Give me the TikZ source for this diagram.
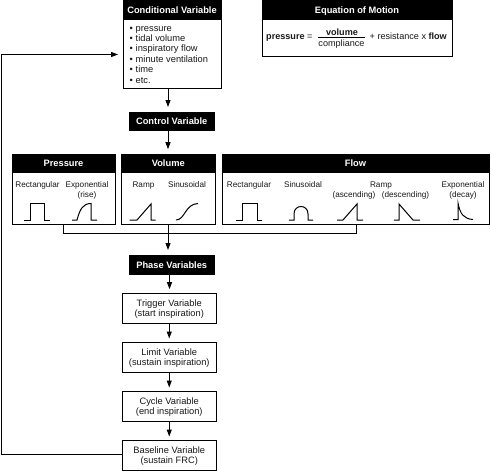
\documentclass[tikz,border=0pt]{standalone}
\usepackage{fontspec}
\setmainfont{Liberation Sans}
\usetikzlibrary{arrows.meta}
\tikzset{
  line/.style={line width=1pt,black},
  wave/.style={line width=1pt,black,line join=miter},
  arrow/.style={line,-{Triangle[length=7pt,width=5pt]}},
  box/.style={draw=black,line width=1pt,fill=white,inner sep=0pt,align=center,text depth=0pt,font=\fontsize{9.3}{10.3}\selectfont,text=black!90},
  head/.style={fill=black,text=white,inner sep=0pt,align=center,text height=6.7pt,text depth=0pt,font=\fontsize{9.3}{11}\selectfont\bfseries},
  lab/.style={inner sep=0pt,anchor=base,font=\fontsize{8.2}{9.6}\selectfont,text=black!90,align=center},
  labtwo/.style={inner sep=0pt,anchor=north,font=\fontsize{8.2}{9.6}\selectfont,text=black!90,align=center},
  item/.style={inner sep=0pt,anchor=base west,font=\fontsize{9.3}{10}\selectfont,text=black!90},
  eq/.style={inner sep=0pt,font=\fontsize{9.1}{10}\selectfont,text=black!90},
}
\newcommand{\boxat}[7]{% name x1 y1 x2 y2 style text
  \node[#6,minimum width=#4pt-#2pt,minimum height=#5pt-#3pt] (#1) at ({(#2+#4)/2},{(#3+#5)/2}) {#7};}
\begin{document}
\begin{tikzpicture}[x=1pt,y=-1pt]
\useasboundingbox (0,0) rectangle (491,471);
\fill[white] (0,0) rectangle (491,471);
% conditional
\boxat{condb}{123}{1}{221}{88}{box}{}
\boxat{condh}{123}{1}{221}{20}{head}{Conditional Variable}
\foreach \n/\y/\t in {a/31/pressure,b/41.3/tidal volume,c/51.8/inspiratory flow,d/62.3/minute ventilation,e/72.6/time,f/83/etc.}{
  \node[item] (bul\n) at (129.5,\y) {•};
  \node[item] (it\n) at (135.5,\y) {\t};
}
% equation
\boxat{eqb}{262}{1}{452}{56}{box}{}
\boxat{eqh}{262}{1}{452}{20}{head}{Equation of Motion}
\node[eq,anchor=base west] (eqp) at (266,39.5) {\textbf{pressure} =};
\node[eq,anchor=base] (eqv) at (342,35) {\textbf{volume}};
\node[eq,anchor=base] (eqc) at (341.5,46) {compliance};
\coordinate (fl) at (318,37.2); \coordinate (fr) at (365,37.2);
\draw[line] (fl) -- (fr);
\node[eq,anchor=base west] (eqr) at (369.5,39.5) {+ resistance x \textbf{flow}};
% control
\boxat{ctrl}{129}{112}{214.5}{131}{head}{Control Variable}
% groups
\boxat{pb}{12}{154}{115}{224.5}{box}{}
\boxat{ph}{12}{154}{115}{173}{head}{Pressure}
\boxat{vb}{121.5}{154}{215}{224.5}{box}{}
\boxat{vh}{121.5}{154}{215}{173}{head}{Volume}
\boxat{fb}{222}{154}{489}{224.5}{box}{}
\boxat{fh}{222}{154}{489}{173}{head}{Flow}
\node[lab] (l1) at (37.5,187.5) {Rectangular};
\node[labtwo] (l2) at (87,181.3) {Exponential\\(rise)};
\node[lab] (l3) at (143.5,187.5) {Ramp};
\node[lab] (l4) at (187,187.5) {Sinusoidal};
\node[lab] (l5) at (249,187.5) {Rectangular};
\node[lab] (l6) at (303,187.5) {Sinusoidal};
\node[lab] (l7) at (381,187.5) {Ramp};
\node[lab] (l8) at (354,197) {(ascending)};
\node[lab] (l9) at (405.5,197) {(descending)};
\node[labtwo] (l10) at (463,181.3) {Exponential\\(decay)};
% waveforms
\draw[wave] (24,220) -- (30,220) -- (30,203.5) -- (44,203.5) -- (44,220) -- (50,220);
\draw[wave] (72,220) -- (77,220) .. controls (80,209) and (83,203.5) .. (91,203.5) -- (91,220) -- (97,220);
\draw[wave] (129.5,220) -- (137,220) -- (151,204) -- (151,220) -- (155.5,220);
\draw[wave] (176,220) .. controls (185,220) and (185,204) .. (198,203.5);
\draw[wave] (236,220) -- (242,220) -- (242,203.5) -- (257,203.5) -- (257,220) -- (262,220);
\draw[wave] (289,220) -- (294,220) -- (294,214) .. controls (294,204) and (308,204) .. (308,214) -- (308,220) -- (313,220);
\draw[wave] (337,220) -- (343,220) -- (357,204) -- (357,220) -- (363,220);
\draw[wave] (394,220) -- (399,220) -- (399,204) -- (413,220) -- (420,220);
\draw[wave] (453,219.5) -- (458,219.5) -- (458,203) .. controls (460,214) and (464,219) .. (473,219.5);
% phase boxes
\boxat{phase}{129}{255}{214.5}{275}{head}{Phase Variables}
\boxat{trig}{122.5}{293}{216}{323}{box}{Trigger Variable\\(start inspiration)}
\boxat{lim}{122.5}{342}{216}{372}{box}{Limit Variable\\(sustain inspiration)}
\boxat{cyc}{122.5}{391}{216}{421}{box}{Cycle Variable\\(end inspiration)}
\boxat{base}{122.5}{440}{216}{470}{box}{Baseline Variable\\(sustain FRC)}
% connectors
\coordinate (sp) at (168,0);
\coordinate (sq) at (169.5,0);
\coordinate (bus) at (0,233.5);
\coordinate (lft) at (1,0);
\coordinate (ci) at (118,54.5);
\draw[arrow] (condb.south -| sp) -- ++(0,18.5);
\draw[arrow] (ctrl.south -| sp) -- ++(0,18);
\draw[line] (pb.south -| 63,0) |- (bus -| 356,0) -- (fb.south -| 356,0);
\draw[arrow] (vb.south -| sp) -- ++(0,25);
\draw[arrow] (phase.south -| sq) -- ++(0,14);
\draw[arrow] (trig.south) -- ++(0,15);
\draw[arrow] (lim.south) -- ++(0,15);
\draw[arrow] (cyc.south) -- ++(0,15);
\draw[arrow] (base.west |- 0,454) -| (lft |- ci) -- (ci);
\end{tikzpicture}
\end{document}
